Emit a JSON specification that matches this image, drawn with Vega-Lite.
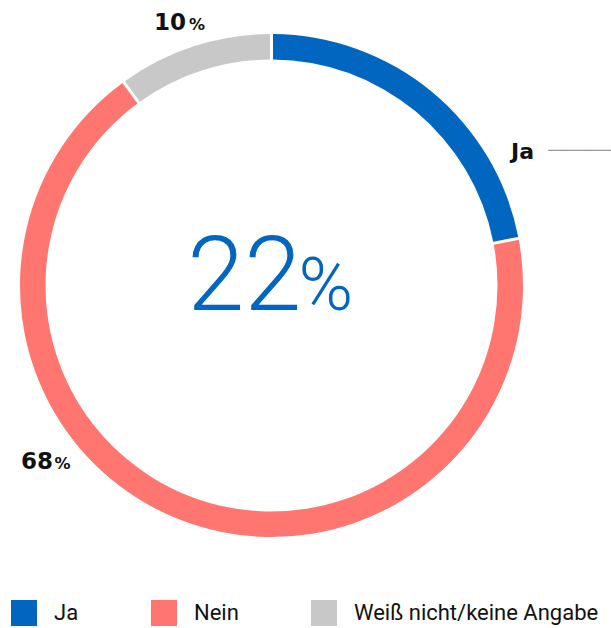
{
  "$schema": "https://vega.github.io/schema/vega-lite/v6.json",
  "width": 543,
  "height": 571,
  "autosize": {"type": "none"},
  "padding": {"left": 0, "top": 0, "right": 68, "bottom": 57},
  "background": "white",
  "config": {"view": {"stroke": null}},
  "data": {"values": [
    {"category": "Ja", "value": 22},
    {"category": "Nein", "value": 68},
    {"category": "Weiß nicht/keine Angabe", "value": 10}
  ]},
  "encoding": {
    "theta": {"field": "value", "type": "quantitative", "stack": true},
    "order": {"field": "category", "type": "nominal"}
  },
  "layer": [
    {
      "mark": {"type": "arc", "outerRadius": 251.5, "innerRadius": 226, "padAngle": 0.009},
      "encoding": {
        "color": {
          "field": "category", "type": "nominal",
          "scale": {"domain": ["Ja", "Nein", "Weiß nicht/keine Angabe"], "range": ["#0066BF", "#FF7570", "#C8C8C8"]},
          "legend": {
            "orient": "none", "legendX": 11, "legendY": 600, "direction": "horizontal", "title": null,
            "symbolType": "square", "symbolSize": 676, "symbolStrokeWidth": 0, "symbolOpacity": 1,
            "labelFont": "Roboto", "labelFontSize": 22, "labelFontWeight": 400, "labelColor": "#111111", "labelOffset": 17,
            "labelLimit": 0, "columnPadding": 72, "padding": 0
          }
        }
      }
    },
    {
      "mark": {"type": "text", "radius": 0, "align": "right", "baseline": "alphabetic", "dx": 30, "dy": 24.5, "font": "Roboto", "fontWeight": 300, "fontSize": 103, "color": "#0066BF"},
      "encoding": {
        "detail": {"field": "category"},
        "text": {"condition": {"test": "datum.category === 'Ja'", "field": "value", "type": "quantitative"}, "value": ""}
      }
    },
    {
      "mark": {"type": "text", "radius": 0, "align": "left", "baseline": "alphabetic", "dx": 27, "dy": 24.5, "font": "Roboto", "fontWeight": 300, "fontSize": 74, "color": "#0066BF"},
      "encoding": {
        "detail": {"field": "category"},
        "text": {"condition": {"test": "datum.category === 'Ja'", "value": "%"}, "value": ""}
      }
    },
    {
      "mark": {"type": "text", "radius": 280, "align": "right", "baseline": "alphabetic", "dx": 1, "dy": 10.8, "font": "DejaVu Sans", "fontWeight": "bold", "fontSize": 23, "color": "#111111"},
      "encoding": {
        "detail": {"field": "category"},
        "text": {"condition": {"test": "datum.category === 'Weiß nicht/keine Angabe'", "field": "value", "type": "quantitative"}, "value": ""}
      }
    },
    {
      "mark": {"type": "text", "radius": 280, "align": "left", "baseline": "alphabetic", "dx": 4, "dy": 10.8, "font": "DejaVu Sans", "fontWeight": "bold", "fontSize": 16, "color": "#111111"},
      "encoding": {
        "detail": {"field": "category"},
        "text": {"condition": {"test": "datum.category === 'Weiß nicht/keine Angabe'", "value": "%"}, "value": ""}
      }
    },
    {
      "mark": {"type": "text", "radius": 280, "align": "right", "baseline": "alphabetic", "dx": -115.4, "dy": -76.9, "font": "DejaVu Sans", "fontWeight": "bold", "fontSize": 23, "color": "#111111"},
      "encoding": {
        "detail": {"field": "category"},
        "text": {"condition": {"test": "datum.category === 'Nein'", "field": "value", "type": "quantitative"}, "value": ""}
      }
    },
    {
      "mark": {"type": "text", "radius": 280, "align": "left", "baseline": "alphabetic", "dx": -114, "dy": -76.9, "font": "DejaVu Sans", "fontWeight": "bold", "fontSize": 16, "color": "#111111"},
      "encoding": {
        "detail": {"field": "category"},
        "text": {"condition": {"test": "datum.category === 'Nein'", "value": "%"}, "value": ""}
      }
    },
    {
      "mark": {"type": "text", "radius": 280, "align": "left", "baseline": "alphabetic", "dx": 61, "dy": 89, "font": "DejaVu Sans", "fontWeight": "bold", "fontSize": 22, "color": "#111111"},
      "encoding": {
        "detail": {"field": "category"},
        "text": {"condition": {"test": "datum.category === 'Ja'", "field": "category", "type": "nominal"}, "value": ""}
      }
    },
    {
      "mark": {"type": "text", "radius": 280, "align": "left", "baseline": "middle", "dx": 98, "dy": 81, "font": "DejaVu Sans Mono", "fontSize": 14, "color": "#999999"},
      "encoding": {
        "detail": {"field": "category"},
        "text": {"condition": {"test": "datum.category === 'Ja'", "value": "────────"}, "value": ""}
      }
    }
  ]
}
